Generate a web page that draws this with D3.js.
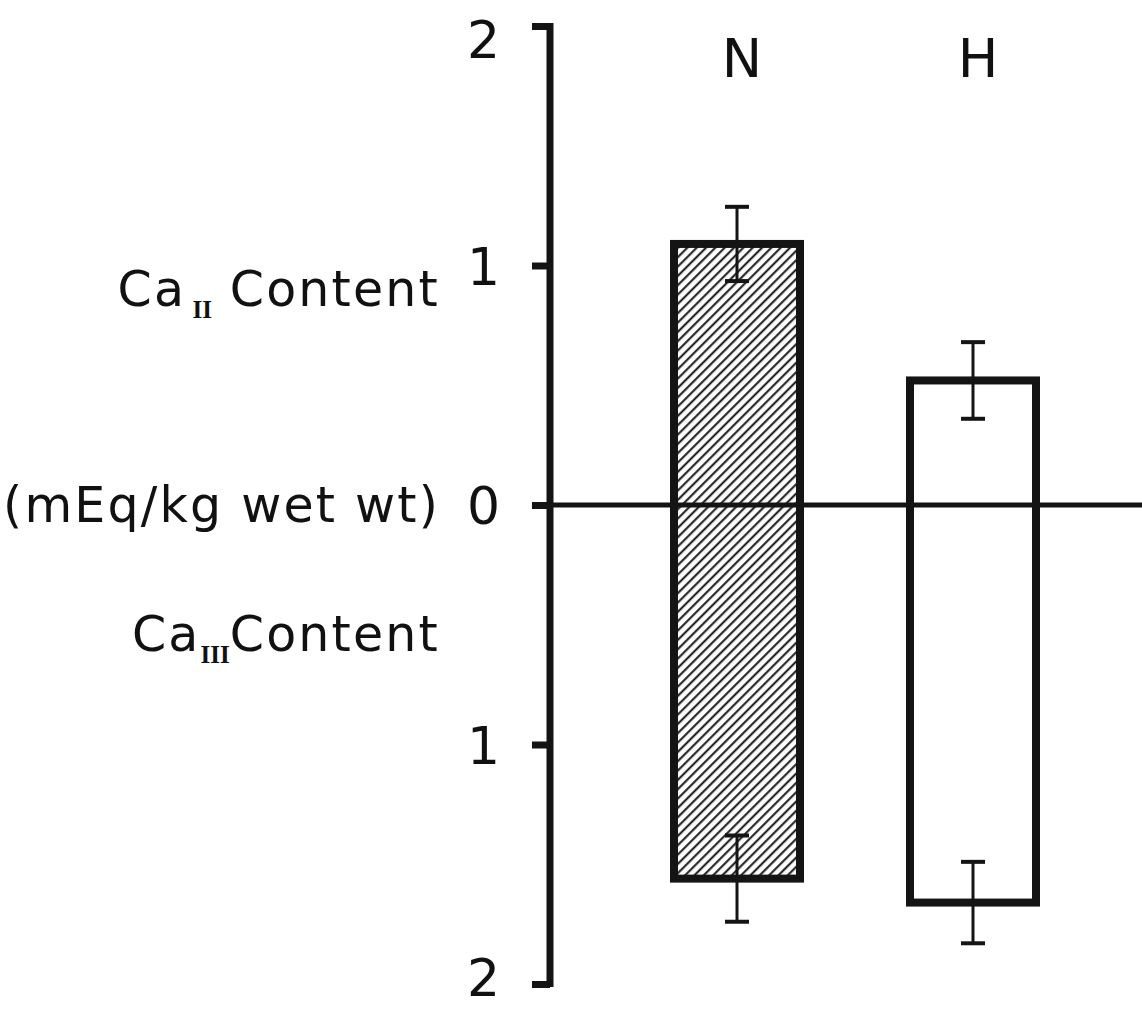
<!DOCTYPE html>
<html>
<head>
<meta charset="utf-8">
<script src="https://cdn.jsdelivr.net/npm/d3@7"></script>
<style>
  html, body { margin: 0; padding: 0; background: #fff; }
  svg { display: block; }
  text { font-family: "DejaVu Sans", sans-serif; fill: #111; }
</style>
</head>
<body>
<svg id="chart" width="1142" height="1010"></svg>
<script>
// Groups and their calcium fractions (mEq/kg wet wt)
const groups = ["N", "H"];
const caIIMean = [1.09, 0.52];      // plotted upward
const caIISE = [0.155, 0.16];
const caIIIMean = [1.56, 1.66];     // plotted downward
const caIIISE = [0.18, 0.17];
const tickValues = [-2, -1, 0, 1, 2];
const hatched = [true, false];

const svg = d3.select("#chart");
const ink = "#141414";

const axisX = 550;
const y = d3.scaleLinear().domain([-2, 2]).range([984, 26]);
const x = d3.scalePoint().domain(groups).range([737, 973]);
const barW = 126;

// Diagonal hatch fill
const defs = svg.append("defs");
const pat = defs.append("pattern")
  .attr("id", "hatch")
  .attr("patternUnits", "userSpaceOnUse")
  .attr("width", 6.6).attr("height", 6.6)
  .attr("patternTransform", "rotate(45)");
pat.append("rect").attr("width", 6.6).attr("height", 6.6).attr("fill", "#fff");
pat.append("line")
  .attr("x1", 1.2).attr("y1", 0).attr("x2", 1.2).attr("y2", 6.6)
  .attr("stroke", ink).attr("stroke-width", 2);

// Bars: one column per group spanning from +CaII down to -CaIII
const rows = groups.map((g, i) => ({
  g, up: caIIMean[i], upErr: caIISE[i], down: caIIIMean[i], downErr: caIIISE[i], hatched: hatched[i]
}));

svg.append("g").selectAll("rect")
  .data(rows).join("rect")
  .attr("x", d => x(d.g) - barW / 2)
  .attr("width", barW)
  .attr("y", d => y(d.up))
  .attr("height", d => y(-d.down) - y(d.up))
  .attr("fill", d => d.hatched ? "url(#hatch)" : "none")
  .attr("stroke", ink)
  .attr("stroke-width", 8);

// Zero baseline across the plot, over the bars
svg.append("line")
  .attr("x1", axisX).attr("x2", 1142)
  .attr("y1", y(0)).attr("y2", y(0))
  .attr("stroke", ink).attr("stroke-width", 5);

// Error bars (mean ± SE)
const errs = [];
rows.forEach(d => {
  errs.push({ g: d.g, lo: d.up - d.upErr, hi: d.up + d.upErr });
  errs.push({ g: d.g, lo: -d.down - d.downErr, hi: -d.down + d.downErr });
});
const eg = svg.append("g").attr("stroke", ink);
eg.selectAll("line.stem").data(errs).join("line")
  .attr("class", "stem")
  .attr("x1", d => x(d.g)).attr("x2", d => x(d.g))
  .attr("y1", d => y(d.hi)).attr("y2", d => y(d.lo))
  .attr("stroke-width", 3);
eg.selectAll("line.capHi").data(errs).join("line")
  .attr("class", "capHi")
  .attr("x1", d => x(d.g) - 12).attr("x2", d => x(d.g) + 12)
  .attr("y1", d => y(d.hi)).attr("y2", d => y(d.hi))
  .attr("stroke-width", 4);
eg.selectAll("line.capLo").data(errs).join("line")
  .attr("class", "capLo")
  .attr("x1", d => x(d.g) - 12).attr("x2", d => x(d.g) + 12)
  .attr("y1", d => y(d.lo)).attr("y2", d => y(d.lo))
  .attr("stroke-width", 4);

// Group labels above the columns
svg.append("g").selectAll("text")
  .data(groups).join("text")
  .attr("x", d => x(d) + 5)
  .attr("y", 77)
  .attr("text-anchor", "middle")
  .style("font-size", "54px")
  .text(d => d);

// Vertical axis: magnitudes on both sides of zero
const axis = d3.axisLeft(y)
  .tickValues(tickValues)
  .tickSize(18)
  .tickPadding(32)
  .tickFormat(v => d3.format("d")(Math.abs(v)));
const ag = svg.append("g")
  .attr("transform", `translate(${axisX},0)`)
  .call(axis);
ag.select(".domain").remove();
ag.append("line")
  .attr("x1", 0).attr("x2", 0)
  .attr("y1", y(2) - 3).attr("y2", y(-2) + 3)
  .attr("stroke", ink).attr("stroke-width", 7);
ag.selectAll(".tick line").attr("stroke", ink).attr("stroke-width", 7);
ag.selectAll(".tick text")
  .attr("fill", ink)
  .style("font-family", "'DejaVu Sans', sans-serif")
  .style("font-size", "52px")
  .attr("dy", v => v === 2 ? "0.6em" : v === -2 ? "0.22em" : "0.36em");

// Left-hand labels
function caLabel(yBase, numeral) {
  const t = svg.append("text")
    .attr("x", 440).attr("y", yBase)
    .attr("text-anchor", "end")
    .style("font-size", "49px")
    .style("letter-spacing", "2.2px");
  t.append("tspan").text("Ca");
  t.append("tspan")
    .attr("dy", 12)
    .style("font-family", "'Liberation Serif', serif")
    .style("font-weight", "bold")
    .style("font-size", "25px")
    .style("letter-spacing", "0px")
    .text(numeral === "II" ? " II" : "III");
  t.append("tspan").attr("dy", -12).text(numeral === "II" ? " Content" : "Content");
}
caLabel(306, "II");
caLabel(651, "III");

svg.append("text")
  .attr("x", 440).attr("y", 522)
  .attr("text-anchor", "end")
  .style("font-size", "49px")
  .style("letter-spacing", "2.2px")
  .text("(mEq/kg  wet wt)");
</script>
</body>
</html>
